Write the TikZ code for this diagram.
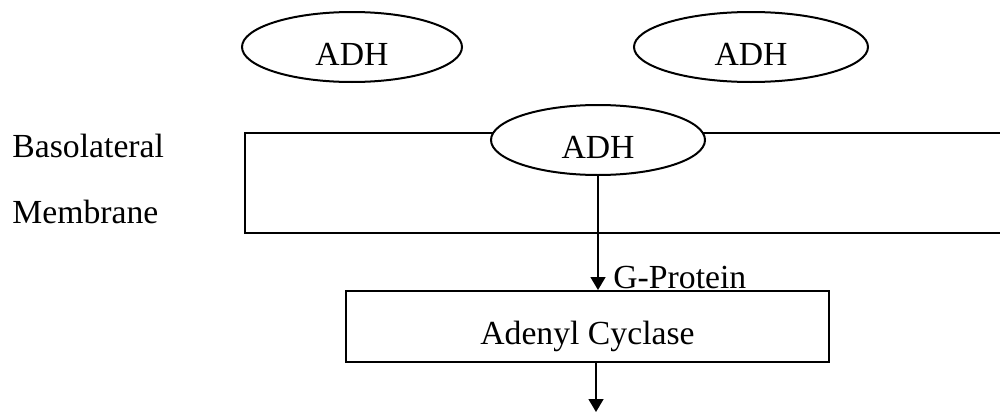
\documentclass[tikz,border=0pt]{standalone}
\usepackage{fontspec}
\setmainfont{Liberation Serif}
\usetikzlibrary{shapes.geometric, arrows.meta, positioning}

\begin{document}
\begin{tikzpicture}[
  x=0.5pt, y=-0.5pt,
  every node/.style={font=\fontsize{16.85}{20}\selectfont},
  hormone/.style={draw, ellipse, line width=1pt, fill=white, minimum height=35pt, inner sep=0pt, text height=18pt, text depth=0pt},
  enzyme/.style={draw, rectangle, line width=1pt, minimum width=241.5pt, minimum height=35.5pt, inner sep=0pt, text height=18pt, text depth=0pt},
  lbl/.style={anchor=base west, inner sep=0pt},
  wall/.style={line width=1pt},
  arr/.style={-{Triangle[length=6.5pt, width=7.5pt]}, line width=0.75pt}
]
\useasboundingbox (0,0) rectangle (1000,412);

% hormone outside the cell
\node[hormone, minimum width=110pt] (adh1) at (352,47) {ADH};
\node[hormone, minimum width=117pt] (adh2) at (751,47) {ADH};

% membrane, open towards the right
\coordinate (mtop) at (1000,133);
\coordinate (mbot) at (1000,233);
\draw[wall] (mtop) -| (245,233) -- (mbot);
\node[lbl] (baso) at (12,157) {Basolateral};
\node[lbl] (memb) at (12,223) {Membrane};

% bound hormone and cascade
\node[hormone, minimum width=107pt] (adh3) at (598,140) {ADH};
\node[enzyme] (ac) at (587.5,326.5) {Adenyl Cyclase};
\node[lbl] (gp) at (613,288) {G-Protein};
\coordinate (out) at (596,412);

\draw[arr] (adh3.south) -- (adh3.south |- ac.north);
\draw[arr] (out |- ac.south) -- (out);
\end{tikzpicture}
\end{document}
